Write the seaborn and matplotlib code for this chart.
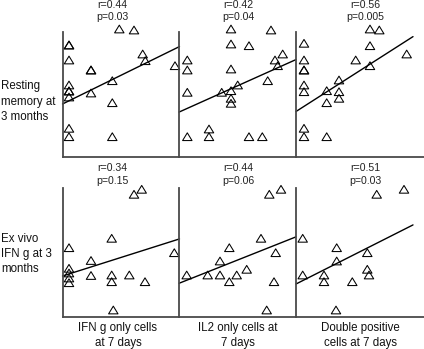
import numpy as np
import pandas as pd
import matplotlib
matplotlib.use("Agg")
import matplotlib.pyplot as plt
from matplotlib.path import Path
from matplotlib.markers import MarkerStyle
import seaborn as sns

# ---------------- data (arbitrary units) ----------------
row_labels = ["Resting\nmemory at\n3 months", "Ex vivo\nIFN g at 3\nmonths"]
col_labels = ["IFN g only cells\nat 7 days", "IL2 only cells at\n7 days", "Double positive\ncells at 7 days"]
r_text = [["r=0.44", "r=0.42", "r=0.56"], ["r=0.34", "r=0.44", "r=0.51"]]
p_text = [["p=0.03", "p=0.04", "p=0.005"], ["p=0.15", "p=0.06", "p=0.03"]]

# Resting memory vs IFN g only
rm_ifn_x = [5.68, 7.15, 0.65, 0.65, 0.65, 2.85, 2.85, 8.02, 8.28, 11.25, 0.65, 0.65, 0.65,
            0.65, 2.85, 4.98, 4.98, 0.65, 0.65, 4.98]
rm_ifn_y = [12.8, 12.7, 11.2, 11.2, 9.7, 8.7, 8.7, 10.3, 9.63, 9.13, 7.2, 6.6, 6.6,
            6.0, 6.4, 7.63, 5.43, 2.87, 2.03, 2.03]
# Resting memory vs IL2 only
rm_il2_x = [5.2, 9.2, 5.2, 7.0, 10.37, 9.6, 9.87, 0.83, 0.83, 5.2, 8.87, 0.83, 4.27,
            5.2, 5.87, 5.2, 5.2, 3.0, 0.83, 3.0, 7.0, 8.33]
rm_il2_y = [12.8, 12.7, 11.3, 11.13, 10.3, 9.7, 9.13, 9.7, 8.7, 8.8, 7.63, 6.47, 6.47,
            6.63, 7.2, 5.87, 5.37, 2.8, 2.03, 2.03, 2.03, 2.03]
# Resting memory vs double positive
rm_dp_x = [7.4, 8.33, 0.8, 7.4, 11.07, 0.8, 0.8, 0.8, 5.97, 7.4, 4.3, 0.8, 0.8,
           3.07, 4.3, 4.3, 3.07, 0.8, 0.8, 3.07]
rm_dp_y = [12.8, 12.7, 11.37, 11.13, 10.3, 9.7, 8.7, 8.7, 9.7, 9.13, 7.7, 7.2, 6.53,
           6.63, 6.53, 5.87, 5.43, 2.87, 2.03, 2.03]
# Ex vivo IFN g vs IFN g only
ev_ifn_x = [7.15, 7.92, 4.92, 0.65, 11.18, 2.85, 0.65, 0.65, 0.65, 0.65, 2.85, 4.92,
            4.92, 6.68, 8.25, 5.08]
ev_ifn_y = [12.27, 12.77, 7.87, 6.93, 6.43, 5.65, 4.87, 4.4, 3.9, 3.43, 4.15, 4.2,
            3.53, 4.2, 3.53, 0.7]
# Ex vivo IFN g vs IL2 only
ev_il2_x = [9.03, 10.2, 8.2, 5.03, 9.67, 4.1, 6.77, 0.77, 2.87, 4.1, 5.77, 5.03, 9.5, 8.77]
ev_il2_y = [12.27, 12.77, 7.87, 6.93, 6.43, 5.6, 4.77, 4.2, 4.2, 4.2, 4.2, 3.53, 3.53, 0.7]
# Ex vivo IFN g vs double positive
ev_dp_x = [8.07, 10.8, 0.67, 4.07, 7.13, 4.07, 7.13, 0.67, 2.8, 2.8, 7.3, 5.63, 4.0]
ev_dp_y = [12.27, 12.77, 7.87, 6.93, 6.43, 5.6, 4.77, 4.2, 4.2, 3.53, 4.2, 3.53, 0.7]

# fitted regression lines (intercept, slope)
fit_intercept = [[5.3, 4.49, 4.55], [4.1, 3.37, 3.3]]
fit_slope = [[0.491, 0.449, 0.64], [0.317, 0.397, 0.505]]
fit_x_range = [0.0, 11.7]

panels = [[(rm_ifn_x, rm_ifn_y), (rm_il2_x, rm_il2_y), (rm_dp_x, rm_dp_y)],
          [(ev_ifn_x, ev_ifn_y), (ev_il2_x, ev_il2_y), (ev_dp_x, ev_dp_y)]]

# ---------------- layout ----------------
W, H = 424, 349
sns.set_theme(style="white")
plt.rcParams["font.family"] = ["Liberation Sans", "DejaVu Sans"]

fig = plt.figure(figsize=(W / 100, H / 100), dpi=100)


def fx(px):
    return px / W


def fy(py):
    return 1 - py / H


col_edges = [(62.5, 179), (179, 296), (296, 424)]
row_edges = [(32, 157), (188, 317)]
text_cx = [112, 238, 365]
stat_y = [(5, 16.5), (168, 181)]

tri = MarkerStyle(Path([(0, 0.82), (-1, -0.82), (1, -0.82), (0, 0.82)], closed=True))
spine_col = "#4a4a4a"

for r in range(2):
    top, bot = row_edges[r]
    for c in range(3):
        left, right = col_edges[c]
        ax = fig.add_axes([fx(left), fy(bot), fx(right) - fx(left), fy(top) - fy(bot)])
        ax.patch.set_visible(False)
        xs, ys = panels[r][c]
        df = pd.DataFrame({"x": xs, "y": ys})
        sns.scatterplot(data=df, x="x", y="y", ax=ax, marker=tri, s=46,
                        facecolor="none", edgecolor="black", linewidth=0.75,
                        clip_on=False, zorder=3)
        lx = np.array(fit_x_range)
        ly = fit_intercept[r][c] + fit_slope[r][c] * lx
        sns.lineplot(x=lx, y=ly, ax=ax, color="black", linewidth=1.0, clip_on=False)
        ax.set_xlim(0, (right - left) / 10)
        ax.set_ylim(0, (bot - top) / 10)
        ax.set_xticks([])
        ax.set_yticks([])
        ax.set_xlabel("")
        ax.set_ylabel("")
        for s in ["top", "right"]:
            ax.spines[s].set_visible(False)
        for s in ["left", "bottom"]:
            ax.spines[s].set_color(spine_col)
            ax.spines[s].set_linewidth(1.3)
        fig.text(fx(text_cx[c]), fy(stat_y[r][0]), r_text[r][c], ha="center", va="center",
                 fontsize=7.6, color="#222222")
        fig.text(fx(text_cx[c]), fy(stat_y[r][1]), p_text[r][c], ha="center", va="center",
                 fontsize=7.6, color="#222222")

row_label_cy = [101.5, 254]
for r in range(2):
    fig.text(fx(1), fy(row_label_cy[r]), row_labels[r], ha="left", va="center",
             fontsize=8.3, linespacing=1.35, color="#111111")

col_label_cx = [118, 237.5, 360]
for c in range(3):
    fig.text(fx(col_label_cx[c]), fy(335.5), col_labels[c], ha="center", va="center",
             fontsize=8.3, linespacing=1.35, color="#111111")

fig.savefig("out.png", dpi=100)
